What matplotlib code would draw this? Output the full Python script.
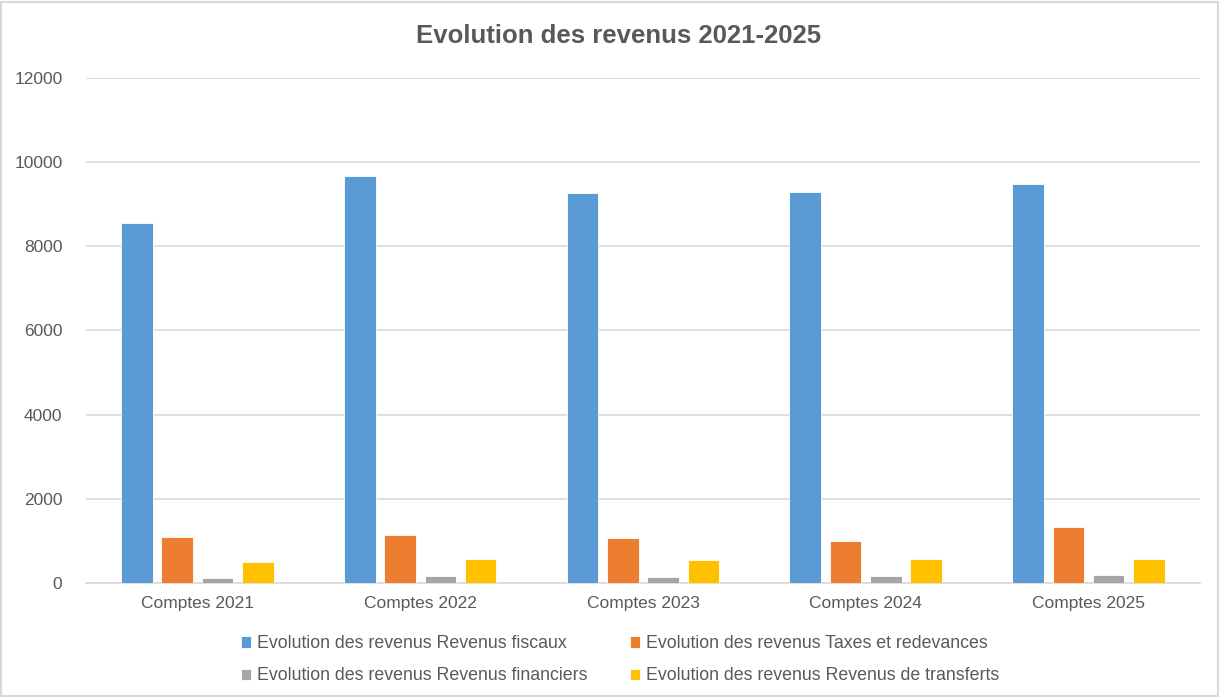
import matplotlib
matplotlib.use('Agg')
import matplotlib.pyplot as plt
import numpy as np
from matplotlib.patches import Rectangle

# data
categories = ["Comptes 2021", "Comptes 2022", "Comptes 2023", "Comptes 2024", "Comptes 2025"]
revenus_fiscaux = [8550, 9670, 9260, 9280, 9470]
taxes_redevances = [1090, 1150, 1070, 1005, 1330]
revenus_financiers = [135, 170, 155, 175, 195]
revenus_transferts = [505, 577, 553, 577, 577]

series_labels = [
    "Evolution des revenus Revenus fiscaux",
    "Evolution des revenus Taxes et redevances",
    "Evolution des revenus Revenus financiers",
    "Evolution des revenus Revenus de transferts",
]
colors = ["#5B9BD5", "#ED7D31", "#A5A5A5", "#FFC000"]
text_color = "#595959"

plt.rcParams['font.family'] = ['Liberation Sans Narrow', 'Liberation Sans', 'DejaVu Sans']

fig = plt.figure(figsize=(12.2, 6.97), dpi=100)
ax = fig.add_axes([0.0705, 0.1631, 0.913, 0.7257])

x = np.arange(len(categories))
width = 0.142
step = 0.181
all_series = [revenus_fiscaux, taxes_redevances, revenus_financiers, revenus_transferts]
bars = []
for i, (vals, lab, col) in enumerate(zip(all_series, series_labels, colors)):
    b = ax.bar(x + (i - 1.5) * step, vals, width, color=col, label=lab,
               edgecolor="white", linewidth=0.6, zorder=3)
    bars.append(b)

ax.set_xlim(-0.5, len(categories) - 0.5)
ax.set_ylim(0, 12000)
ax.set_yticks(np.arange(0, 12001, 2000))
ax.set_yticklabels([str(v) for v in range(0, 12001, 2000)])
ax.set_xticks(x)
ax.set_xticklabels(categories)
ax.yaxis.grid(True, color="#D9D9D9", linewidth=1.2, zorder=0)
ax.tick_params(axis='both', length=0, labelsize=12.5, colors=text_color)
ax.tick_params(axis='y', pad=17)
ax.tick_params(axis='x', pad=9)
for s in ["top", "right", "left"]:
    ax.spines[s].set_visible(False)
ax.spines["bottom"].set_color("#D9D9D9")
ax.spines["bottom"].set_linewidth(1.2)

fig.suptitle("Evolution des revenus 2021-2025", x=0.507, y=0.965,
             fontsize=18.5, fontweight="bold", color=text_color)

# row-major order like the original legend
order = [0, 2, 1, 3]
leg = fig.legend([bars[k] for k in order], [series_labels[k] for k in order],
                 loc="lower center", bbox_to_anchor=(0.508, -0.005), ncol=2,
                 frameon=False, fontsize=12.8, handlelength=0.6, handleheight=0.6,
                 handletextpad=0.3, columnspacing=2.4, labelspacing=0.85)
for t in leg.get_texts():
    t.set_color(text_color)

# chart area border
fig.patches.append(Rectangle((0.001, 0.002), 0.997, 0.995, transform=fig.transFigure,
                             fill=False, edgecolor="#D9D9D9", linewidth=1.5))

fig.savefig("out.png", dpi=100)
